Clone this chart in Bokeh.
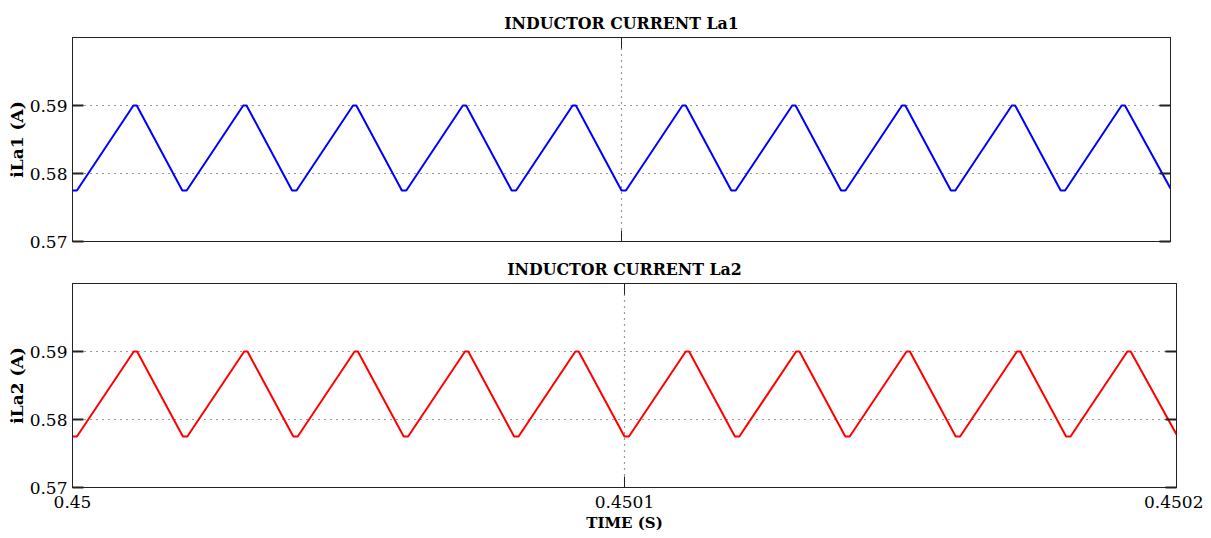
from bokeh.plotting import figure
from bokeh.layouts import column
from bokeh.models import Range1d, FixedTicker, LinearAxis, CustomJSTickFormatter
from bokeh.embed import file_html
from bokeh.resources import INLINE

# ---- data (time in seconds, current in A) ----
t_vertices = [0.4500000, 0.4500008, 0.4500111, 0.4500117,
              0.4500200, 0.4500208, 0.4500311, 0.4500317,
              0.4500400, 0.4500408, 0.4500511, 0.4500517,
              0.4500600, 0.4500608, 0.4500711, 0.4500717,
              0.4500800, 0.4500808, 0.4500911, 0.4500917,
              0.4501000, 0.4501008, 0.4501111, 0.4501117,
              0.4501200, 0.4501208, 0.4501311, 0.4501317,
              0.4501400, 0.4501408, 0.4501511, 0.4501517,
              0.4501600, 0.4501608, 0.4501711, 0.4501717,
              0.4501800, 0.4501808, 0.4501911, 0.4501917,
              0.4502000]
iLa1 = [0.5775, 0.5775, 0.5900, 0.5900,
        0.5775, 0.5775, 0.5900, 0.5900,
        0.5775, 0.5775, 0.5900, 0.5900,
        0.5775, 0.5775, 0.5900, 0.5900,
        0.5775, 0.5775, 0.5900, 0.5900,
        0.5775, 0.5775, 0.5900, 0.5900,
        0.5775, 0.5775, 0.5900, 0.5900,
        0.5775, 0.5775, 0.5900, 0.5900,
        0.5775, 0.5775, 0.5900, 0.5900,
        0.5775, 0.5775, 0.5900, 0.5900,
        0.5778]
iLa2 = [0.5775, 0.5775, 0.5900, 0.5900,
        0.5775, 0.5775, 0.5900, 0.5900,
        0.5775, 0.5775, 0.5900, 0.5900,
        0.5775, 0.5775, 0.5900, 0.5900,
        0.5775, 0.5775, 0.5900, 0.5900,
        0.5775, 0.5775, 0.5900, 0.5900,
        0.5775, 0.5775, 0.5900, 0.5900,
        0.5775, 0.5775, 0.5900, 0.5900,
        0.5775, 0.5775, 0.5900, 0.5900,
        0.5775, 0.5775, 0.5900, 0.5900,
        0.5778]
x_ticks = [0.45, 0.4501, 0.4502]
y_ticks = [0.57, 0.58, 0.59]
titles = ["INDUCTOR CURRENT La1", "INDUCTOR CURRENT La2"]
y_labels = ["iLa1 (A)", "iLa2 (A)"]
x_label = "TIME (S)"
colors = ["#0000ff", "#ff0000"]

SERIF = "DejaVu Serif"
xfmt = CustomJSTickFormatter(code="return tick.toFixed(4).replace(/0+$/, '');")
yfmt = CustomJSTickFormatter(code="return tick.toFixed(2);")
blank = CustomJSTickFormatter(code="return '';")


def style_axis(ax, labels, ticks, tick_w):
    ax.ticker = FixedTicker(ticks=ticks)
    ax.major_tick_in = 11
    ax.major_tick_out = 0
    ax.minor_tick_in = 0
    ax.minor_tick_out = 0
    ax.major_tick_line_color = "#222222"
    ax.major_tick_line_width = tick_w
    ax.axis_line_color = "#222222"
    ax.major_label_text_font = SERIF
    ax.major_label_text_font_size = "17px"
    ax.major_label_text_color = "#000000"
    ax.axis_label_text_font = SERIF
    ax.axis_label_text_font_style = "bold"
    ax.axis_label_text_font_size = "17px"
    ax.axis_label_text_color = "#000000"
    if labels is None:
        ax.formatter = blank
        ax.major_label_standoff = 0


def make_fig(idx, ys, frame_w, mb_left, mb_right, mb_top, mb_bottom, show_x):
    p = figure(frame_width=frame_w, frame_height=204,
               x_range=Range1d(0.45, 0.4502), y_range=Range1d(0.57, 0.6),
               output_backend="svg", toolbar_location=None,
               min_border_left=mb_left, min_border_right=mb_right,
               min_border_top=mb_top, min_border_bottom=mb_bottom,
               background_fill_color="white", border_fill_color="white")
    p.title.text = titles[idx]
    p.title.align = "center"
    p.title.text_font = SERIF
    p.title.text_font_style = "bold"
    p.title.text_font_size = "15.8px"
    p.title.text_color = "#000000"
    p.title.standoff = 9
    p.outline_line_color = "#222222"
    p.outline_line_alpha = 1.0

    style_axis(p.yaxis[0], True, y_ticks, 2)
    p.yaxis[0].formatter = yfmt
    p.yaxis[0].axis_label = y_labels[idx]
    p.yaxis[0].axis_label_standoff = 0
    style_axis(p.xaxis[0], True if show_x else None, x_ticks, 1)
    if show_x:
        p.xaxis[0].formatter = xfmt
        p.xaxis[0].axis_label = x_label
        p.xaxis[0].axis_label_text_font_size = "15px"
        p.xaxis[0].major_label_standoff = 8
        p.xaxis[0].axis_label_standoff = 3

    right = LinearAxis()
    style_axis(right, None, y_ticks, 2)
    p.add_layout(right, "right")
    top = LinearAxis()
    style_axis(top, None, x_ticks, 1)
    p.add_layout(top, "above")

    p.xgrid.ticker = FixedTicker(ticks=x_ticks)
    p.ygrid.ticker = FixedTicker(ticks=y_ticks)
    for g in (p.xgrid, p.ygrid):
        g.grid_line_color = "#333333"
        g.grid_line_dash = "1 5"
        g.grid_line_width = 1.2
        g.grid_line_alpha = 1.0

    p.line(t_vertices, ys, line_color=colors[idx], line_width=2)
    return p


p1 = make_fig(0, iLa1, 1098, 72, 33, 37, 10, False)
p2 = make_fig(1, iLa2, 1104, 71, 28, 32, 43, True)
layout = column(p1, p2, spacing=0)
open("out.html", "w").write(file_html(layout, INLINE))
